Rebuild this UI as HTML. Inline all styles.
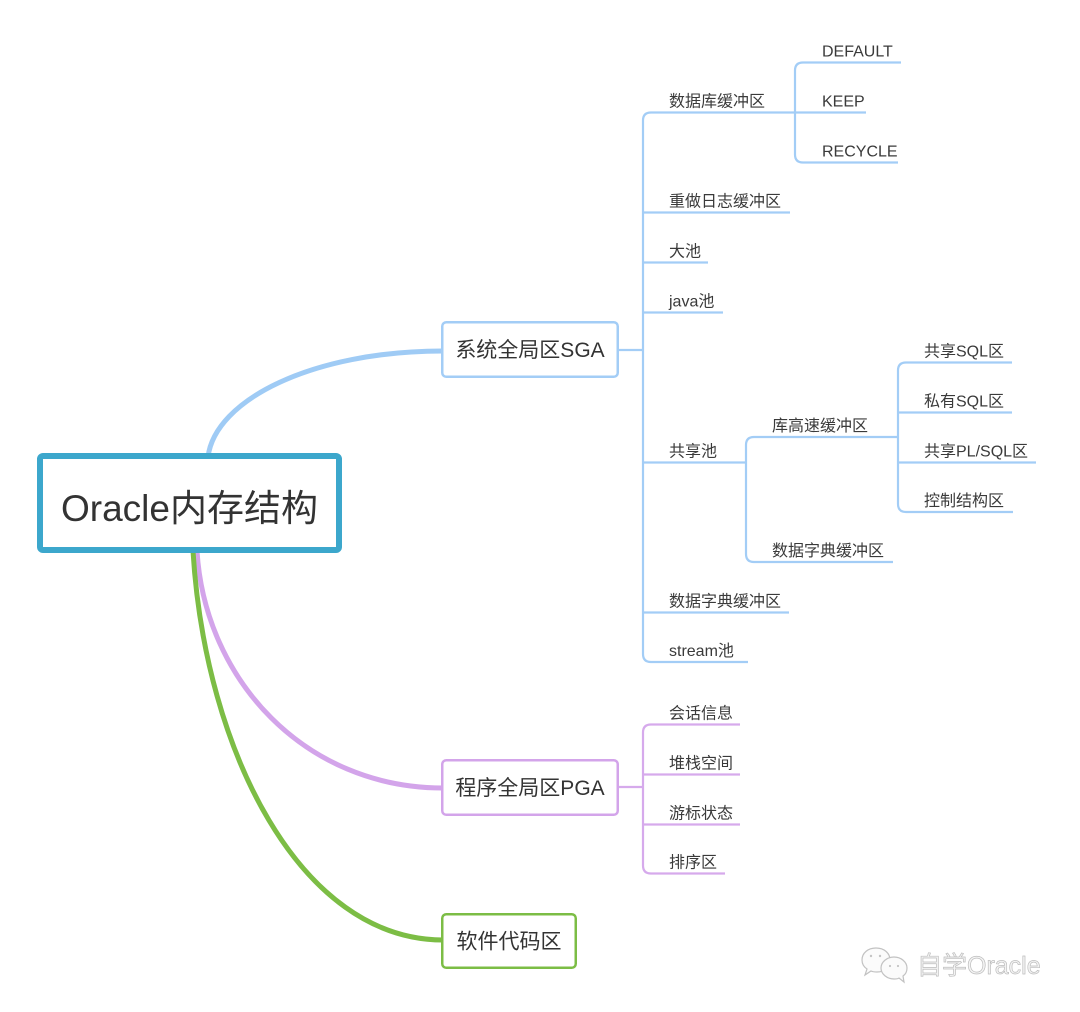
<!DOCTYPE html>
<html>
<head>
<meta charset="utf-8">
<style>
  html,body{margin:0;padding:0;background:#fff;}
  svg{display:block;}
  text{font-family:"Liberation Sans","Noto Sans CJK SC",sans-serif;fill:#3a3a3a;}
  .lbl{font-size:16px;}
  .box{font-size:21px;fill:#333;}
</style>
</head>
<body>
<svg width="1080" height="1012" viewBox="0 0 1080 1012" xmlns="http://www.w3.org/2000/svg">
  <rect x="0" y="0" width="1080" height="1012" fill="#ffffff"/>

  <!-- main curves -->
  <path d="M208 457 C215 400 312 351 443 351" stroke="#9fcbf5" stroke-width="5" fill="none"/>
  <path d="M197 551 C205 680 305 788 443 788" stroke="#d3a4ea" stroke-width="5" fill="none"/>
  <path d="M193 551 C205 750 300 940 443 940" stroke="#7cbd45" stroke-width="5" fill="none"/>

  <!-- root box -->
  <rect x="40" y="456" width="299" height="94" rx="3" ry="3" fill="#fff" stroke="#3ca7cc" stroke-width="6"/>
  <text x="189.5" y="521" text-anchor="middle" style="font-size:37px;fill:#333;">Oracle内存结构</text>

  <!-- SGA -->
  <g fill="none" stroke="#a3cdf6" stroke-width="2.2">
    <rect x="442.25" y="322.25" width="175.5" height="54.5" rx="4" ry="4" fill="#fff" stroke-width="2.5"/>
    <line x1="619" y1="350" x2="643" y2="350"/>
    <path d="M651 112.5 Q643 112.5 643 120.5 L643 654 Q643 662 651 662"/>
    <!-- level-1 underlines -->
    <line x1="651" y1="112.5" x2="796" y2="112.5"/>
    <line x1="643" y1="212.5" x2="790" y2="212.5"/>
    <line x1="643" y1="262.5" x2="708" y2="262.5"/>
    <line x1="643" y1="312.5" x2="723" y2="312.5"/>
    <line x1="643" y1="462.5" x2="746" y2="462.5"/>
    <line x1="643" y1="612.5" x2="789" y2="612.5"/>
    <line x1="651" y1="662" x2="748" y2="662"/>
    <!-- 数据库缓冲区 sub -->
    <path d="M803 62.5 Q795 62.5 795 70.5 L795 154.5 Q795 162.5 803 162.5"/>
    <line x1="803" y1="62.5" x2="901" y2="62.5"/>
    <line x1="795" y1="112.5" x2="866" y2="112.5"/>
    <line x1="803" y1="162.5" x2="898" y2="162.5"/>
    <!-- 共享池 sub -->
    <path d="M754 437 Q746 437 746 445 L746 554 Q746 562 754 562"/>
    <line x1="754" y1="437" x2="898" y2="437"/>
    <line x1="754" y1="562" x2="893" y2="562"/>
    <!-- 库高速缓冲区 sub -->
    <path d="M906 362.5 Q898 362.5 898 370.5 L898 504 Q898 512 906 512"/>
    <line x1="906" y1="362.5" x2="1012" y2="362.5"/>
    <line x1="898" y1="412.5" x2="1012" y2="412.5"/>
    <line x1="898" y1="462.5" x2="1036" y2="462.5"/>
    <line x1="906" y1="512" x2="1013" y2="512"/>
  </g>
  <text class="box" x="530" y="357" text-anchor="middle">系统全局区SGA</text>

  <!-- PGA -->
  <g fill="none" stroke="#d6aaec" stroke-width="2.2">
    <rect x="442.25" y="760.25" width="175.5" height="54.5" rx="4" ry="4" fill="#fff" stroke="#d3a4ea" stroke-width="2.5"/>
    <line x1="619" y1="787" x2="643" y2="787"/>
    <path d="M651 724.5 Q643 724.5 643 732.5 L643 865.5 Q643 873.5 651 873.5"/>
    <line x1="651" y1="724.5" x2="740" y2="724.5"/>
    <line x1="643" y1="774.5" x2="740" y2="774.5"/>
    <line x1="643" y1="824.5" x2="740" y2="824.5"/>
    <line x1="651" y1="873.5" x2="725" y2="873.5"/>
  </g>

  <!-- 软件代码区 -->
  <rect x="442.25" y="914.25" width="133.5" height="53.5" rx="4" ry="4" fill="#fff" stroke="#7cbd45" stroke-width="2.5"/>

  <text class="box" x="530" y="795" text-anchor="middle">程序全局区PGA</text>
  <text class="box" x="509" y="948.5" text-anchor="middle">软件代码区</text>

  <!-- labels -->
  <g class="lbl">
    <text class="lbl" x="669" y="106.5">数据库缓冲区</text>
    <text class="lbl" x="822" y="56.5">DEFAULT</text>
    <text class="lbl" x="822" y="106.5">KEEP</text>
    <text class="lbl" x="822" y="156.5">RECYCLE</text>
    <text class="lbl" x="669" y="206.5">重做日志缓冲区</text>
    <text class="lbl" x="669" y="256.5">大池</text>
    <text class="lbl" x="669" y="306.5">java池</text>
    <text class="lbl" x="669" y="456.5">共享池</text>
    <text class="lbl" x="772" y="431">库高速缓冲区</text>
    <text class="lbl" x="924" y="356.5">共享SQL区</text>
    <text class="lbl" x="924" y="406.5">私有SQL区</text>
    <text class="lbl" x="924" y="456.5">共享PL/SQL区</text>
    <text class="lbl" x="924" y="506">控制结构区</text>
    <text class="lbl" x="772" y="556">数据字典缓冲区</text>
    <text class="lbl" x="669" y="606.5">数据字典缓冲区</text>
    <text class="lbl" x="669" y="656">stream池</text>
    <text class="lbl" x="669" y="718.5">会话信息</text>
    <text class="lbl" x="669" y="768.5">堆栈空间</text>
    <text class="lbl" x="669" y="818.5">游标状态</text>
    <text class="lbl" x="669" y="867.5">排序区</text>
  </g>

  <!-- watermark -->
  <g fill="#fbfbfb" stroke="#c2c2c2" stroke-width="1.2">
    <path d="M876 948 C868 948 862 953 862 960 C862 964 864 967 867 969 L865 975 L871 971 C873 972 875 972 877 972 C885 972 890 967 890 960 C890 953 884 948 876 948 Z"/>
    <path d="M894 957 C887 957 881 962 881 968 C881 974 887 979 894 979 C896 979 898 979 899 978 L904 982 L903 976 C906 974 907 971 907 968 C907 962 901 957 894 957 Z"/>
  </g>
  <g fill="#c4c4c4">
    <circle cx="871" cy="956" r="1.2"/>
    <circle cx="880" cy="956" r="1.2"/>
    <circle cx="890" cy="966" r="1.1"/>
    <circle cx="898" cy="966" r="1.1"/>
  </g>
  <text x="917" y="974" style="font-size:25px;fill:#f4f4f4;stroke:#bdbdbd;stroke-width:0.7px;">自学Oracle</text>
</svg>
</body>
</html>
